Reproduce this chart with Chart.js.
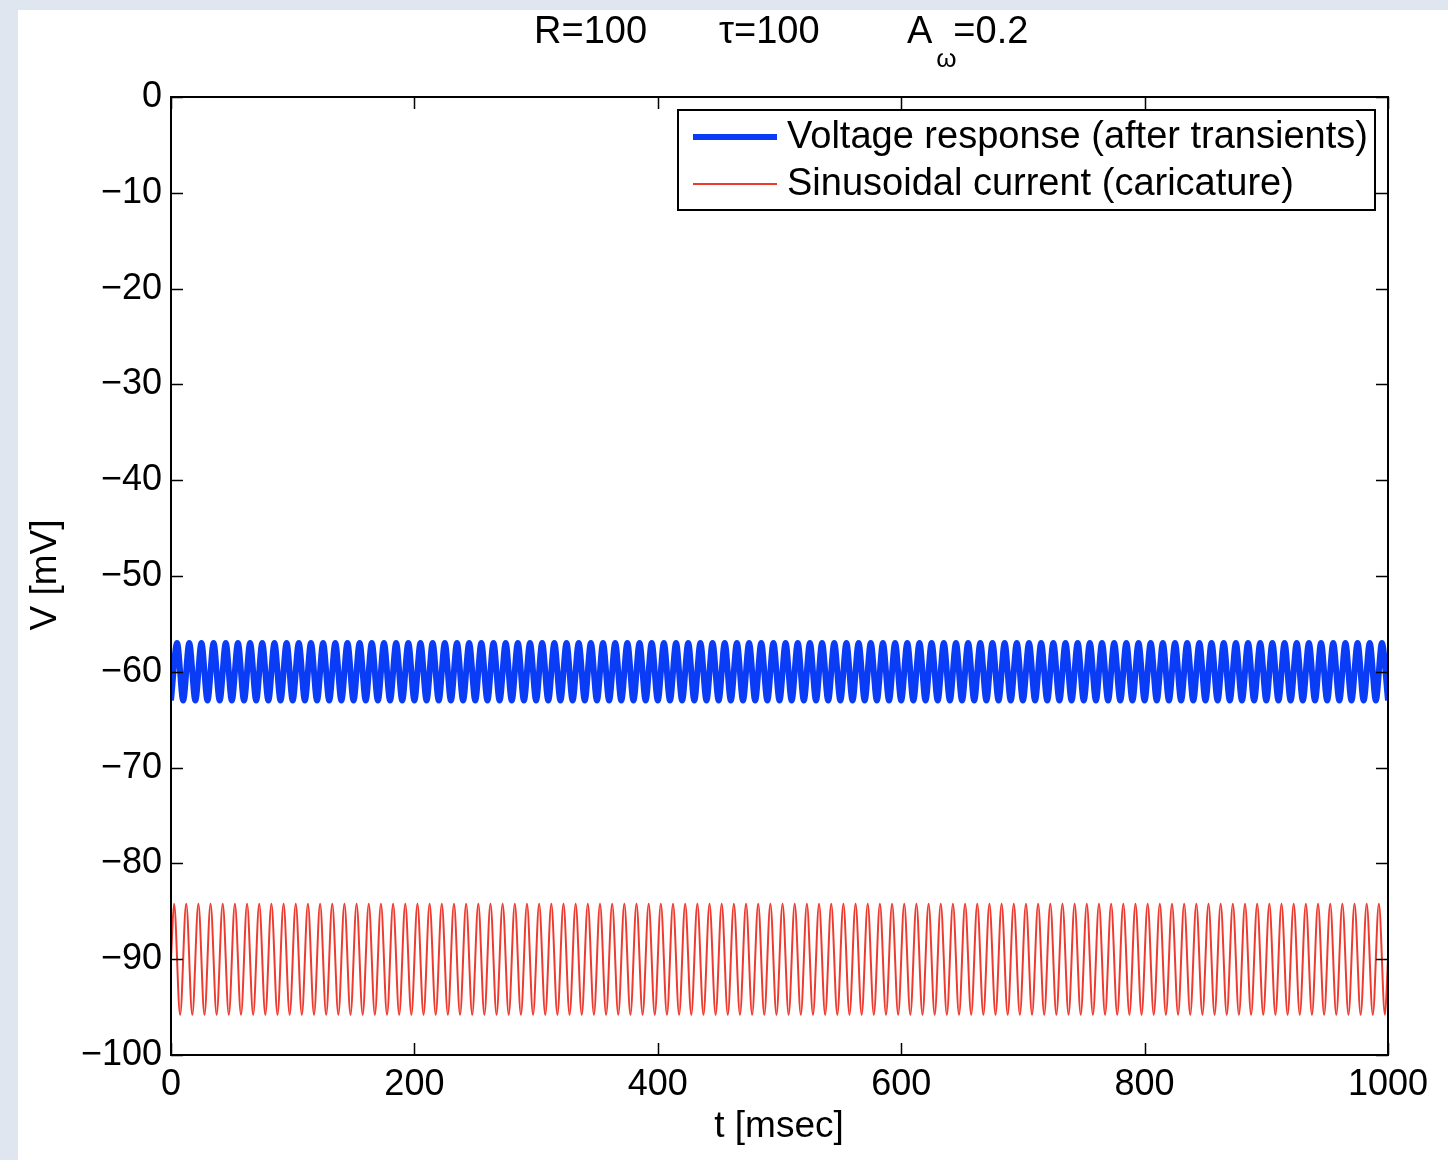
<!DOCTYPE html>
<html><head><meta charset="utf-8">
<script src="https://cdn.jsdelivr.net/npm/chart.js@4/dist/chart.umd.min.js"></script>
<style>
html,body{margin:0;padding:0;background:#dfe6ef;width:1448px;height:1160px;overflow:hidden}
#wrap{position:absolute;left:18px;top:10px;width:1430px;height:1150px;background:#fff}
canvas{display:block}
</style></head><body>
<div id="wrap"><canvas id="c" width="1430" height="1150"></canvas></div>
<script>
// ---- data ----
const seriesNames = ['Voltage response (after transients)', 'Sinusoidal current (caricature)'];
const xTicks = [0, 200, 400, 600, 800, 1000];
const yTicks = [0, -10, -20, -30, -40, -50, -60, -70, -80, -90, -100];
const titleR = 'R=100';
const titleTau = '\u03C4=100';
const titleA = 'A';
const titleASub = '\u03C9';
const titleAVal = '=0.2';
const xTitle = 't [msec]';
const yTitle = 'V [mV]';

// voltage: extremes every 5 ms from t = 0 to t = 1000 (troughs/peaks)
const voltageTime0 = 0, voltageStepMs = 5;
const voltageValues = [
-63,-57,-63,-57,-63,-57,-63,-57,-63,-57,-63,-57,-63,-57,-63,-57,-63,-57,-63,-57,
-63,-57,-63,-57,-63,-57,-63,-57,-63,-57,-63,-57,-63,-57,-63,-57,-63,-57,-63,-57,
-63,-57,-63,-57,-63,-57,-63,-57,-63,-57,-63,-57,-63,-57,-63,-57,-63,-57,-63,-57,
-63,-57,-63,-57,-63,-57,-63,-57,-63,-57,-63,-57,-63,-57,-63,-57,-63,-57,-63,-57,
-63,-57,-63,-57,-63,-57,-63,-57,-63,-57,-63,-57,-63,-57,-63,-57,-63,-57,-63,-57,
-63,-57,-63,-57,-63,-57,-63,-57,-63,-57,-63,-57,-63,-57,-63,-57,-63,-57,-63,-57,
-63,-57,-63,-57,-63,-57,-63,-57,-63,-57,-63,-57,-63,-57,-63,-57,-63,-57,-63,-57,
-63,-57,-63,-57,-63,-57,-63,-57,-63,-57,-63,-57,-63,-57,-63,-57,-63,-57,-63,-57,
-63,-57,-63,-57,-63,-57,-63,-57,-63,-57,-63,-57,-63,-57,-63,-57,-63,-57,-63,-57,
-63,-57,-63,-57,-63,-57,-63,-57,-63,-57,-63,-57,-63,-57,-63,-57,-63,-57,-63,-57,
-63];

// current: -90 at t=0, extremes every 5 ms starting at t=2.5, -90 at t=1000
const currentStart = -90, currentEnd = -90;
const currentTime0 = 2.5, currentStepMs = 5;
const currentValues = [
-84.2,-95.8,-84.2,-95.8,-84.2,-95.8,-84.2,-95.8,-84.2,-95.8,-84.2,-95.8,-84.2,-95.8,-84.2,-95.8,-84.2,-95.8,-84.2,-95.8,
-84.2,-95.8,-84.2,-95.8,-84.2,-95.8,-84.2,-95.8,-84.2,-95.8,-84.2,-95.8,-84.2,-95.8,-84.2,-95.8,-84.2,-95.8,-84.2,-95.8,
-84.2,-95.8,-84.2,-95.8,-84.2,-95.8,-84.2,-95.8,-84.2,-95.8,-84.2,-95.8,-84.2,-95.8,-84.2,-95.8,-84.2,-95.8,-84.2,-95.8,
-84.2,-95.8,-84.2,-95.8,-84.2,-95.8,-84.2,-95.8,-84.2,-95.8,-84.2,-95.8,-84.2,-95.8,-84.2,-95.8,-84.2,-95.8,-84.2,-95.8,
-84.2,-95.8,-84.2,-95.8,-84.2,-95.8,-84.2,-95.8,-84.2,-95.8,-84.2,-95.8,-84.2,-95.8,-84.2,-95.8,-84.2,-95.8,-84.2,-95.8,
-84.2,-95.8,-84.2,-95.8,-84.2,-95.8,-84.2,-95.8,-84.2,-95.8,-84.2,-95.8,-84.2,-95.8,-84.2,-95.8,-84.2,-95.8,-84.2,-95.8,
-84.2,-95.8,-84.2,-95.8,-84.2,-95.8,-84.2,-95.8,-84.2,-95.8,-84.2,-95.8,-84.2,-95.8,-84.2,-95.8,-84.2,-95.8,-84.2,-95.8,
-84.2,-95.8,-84.2,-95.8,-84.2,-95.8,-84.2,-95.8,-84.2,-95.8,-84.2,-95.8,-84.2,-95.8,-84.2,-95.8,-84.2,-95.8,-84.2,-95.8,
-84.2,-95.8,-84.2,-95.8,-84.2,-95.8,-84.2,-95.8,-84.2,-95.8,-84.2,-95.8,-84.2,-95.8,-84.2,-95.8,-84.2,-95.8,-84.2,-95.8,
-84.2,-95.8,-84.2,-95.8,-84.2,-95.8,-84.2,-95.8,-84.2,-95.8,-84.2,-95.8,-84.2,-95.8,-84.2,-95.8,-84.2,-95.8,-84.2,-95.8
];

// ---- build datasets ----
const voltagePts = voltageValues.map((v, i) => ({x: voltageTime0 + i * voltageStepMs, y: v}));
const currentPts = [{x: 0, y: currentStart}]
  .concat(currentValues.map((v, i) => ({x: currentTime0 + i * currentStepMs, y: v})))
  .concat([{x: 1000, y: currentEnd}]);

const BLUE = '#0a3cf5', RED = '#ef3b2f';
const FONT = '"Liberation Sans", Arial, Helvetica, sans-serif';
const fmt = v => (v < 0 ? '\u2212' + Math.abs(v) : String(v));

const frame = {
  id: 'frame',
  afterDatasetsDraw(chart) {
    const {ctx, chartArea: a, scales: {x, y}} = chart;
    ctx.save();
    // inward ticks on all four sides
    ctx.strokeStyle = '#000'; ctx.lineWidth = 1.5;
    const TL = 12;
    ctx.beginPath();
    xTicks.forEach(t => {
      const px = Math.round(x.getPixelForValue(t)) + 0.5;
      ctx.moveTo(px, a.bottom); ctx.lineTo(px, a.bottom - TL);
      ctx.moveTo(px, a.top); ctx.lineTo(px, a.top + TL);
    });
    yTicks.forEach(t => {
      const py = Math.round(y.getPixelForValue(t)) + 0.5;
      ctx.moveTo(a.left, py); ctx.lineTo(a.left + TL, py);
      ctx.moveTo(a.right, py); ctx.lineTo(a.right - TL, py);
    });
    ctx.stroke();
    // box
    ctx.lineWidth = 2;
    ctx.strokeRect(a.left, a.top, a.right - a.left, a.bottom - a.top);

    // legend
    const lx = 660, ly = 100, lw = 697, lh = 100;
    ctx.fillStyle = '#fff';
    ctx.fillRect(lx, ly, lw, lh);
    ctx.lineWidth = 2; ctx.strokeStyle = '#000';
    ctx.strokeRect(lx, ly, lw, lh);
    const ds = chart.data.datasets;
    const rows = [127, 174];
    ds.forEach((d, i) => {
      ctx.strokeStyle = d.borderColor;
      ctx.lineWidth = d.borderWidth;
      ctx.beginPath(); ctx.moveTo(675, rows[i]); ctx.lineTo(759, rows[i]); ctx.stroke();
      ctx.fillStyle = '#000';
      ctx.font = '38px ' + FONT;
      ctx.textAlign = 'left'; ctx.textBaseline = 'middle';
      ctx.fillText(d.label, 769, rows[i] + 1);
    });

    // title
    ctx.fillStyle = '#000';
    ctx.font = '38px ' + FONT;
    ctx.textBaseline = 'middle'; ctx.textAlign = 'left';
    ctx.fillText(titleR, 516, 23);
    ctx.fillText(titleTau, 701, 23);
    ctx.fillText(titleA, 889, 23);
    const aw = ctx.measureText(titleA).width;
    ctx.fillText(titleAVal, 889 + aw + 21, 23);
    ctx.font = '26px ' + FONT;
    ctx.fillText(titleASub, 889 + aw + 4, 50);

    // axis titles
    ctx.font = '37px ' + FONT;
    ctx.textAlign = 'center';
    ctx.fillText(xTitle, 761, 1117);
    ctx.translate(28, 565);
    ctx.rotate(-Math.PI / 2);
    ctx.fillText(yTitle, 0, 0);
    ctx.restore();
  }
};

new Chart(document.getElementById('c'), {
  type: 'line',
  data: {
    datasets: [
      {label: seriesNames[0], data: voltagePts, borderColor: BLUE, borderWidth: 6,
       pointRadius: 0, cubicInterpolationMode: 'monotone', fill: false},
      {label: seriesNames[1], data: currentPts, borderColor: RED, borderWidth: 2,
       pointRadius: 0, cubicInterpolationMode: 'monotone', fill: false}
    ]
  },
  options: {
    responsive: false, animation: false, events: [],
    layout: {padding: {left: 0, top: 87, right: 60, bottom: 0}},
    plugins: {legend: {display: false}, tooltip: {enabled: false}, title: {display: false}},
    scales: {
      x: {type: 'linear', min: 0, max: 1000,
          afterBuildTicks: s => { s.ticks = xTicks.map(v => ({value: v})); },
          afterFit: s => { s.height = 105; },
          grid: {display: false, drawTicks: false}, border: {display: false},
          ticks: {color: '#000', font: {family: FONT, size: 36}, padding: 8, maxRotation: 0, autoSkip: false,
                  callback: v => fmt(v)}},
      y: {type: 'linear', min: -100, max: 0,
          afterBuildTicks: s => { s.ticks = yTicks.map(v => ({value: v})); },
          afterFit: s => { s.width = 153; },
          grid: {display: false, drawTicks: false}, border: {display: false},
          ticks: {color: '#000', font: {family: FONT, size: 36}, padding: 9, autoSkip: false,
                  callback: v => fmt(v)}}
    }
  },
  plugins: [frame]
});
</script>
</body></html>
